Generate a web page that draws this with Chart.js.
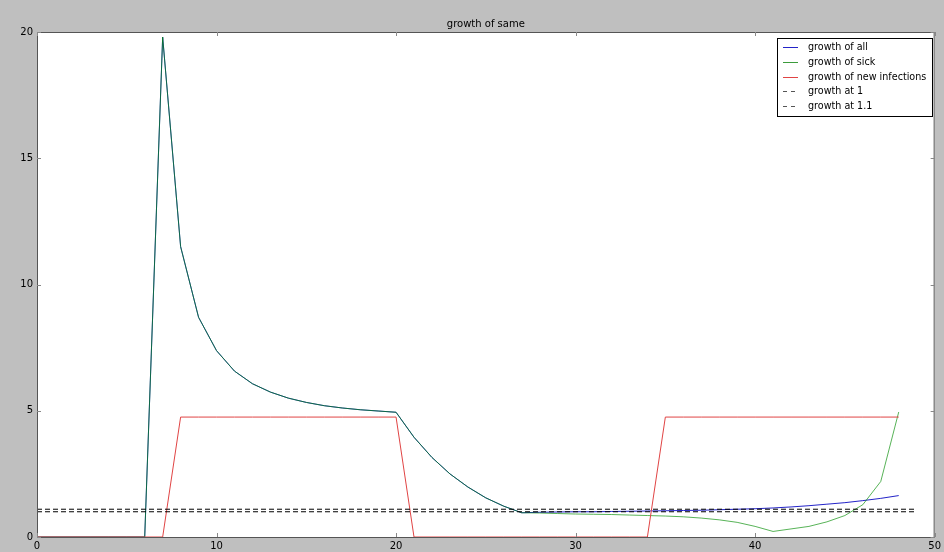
<!DOCTYPE html>
<html>
<head>
<meta charset="utf-8">
<script src="https://cdn.jsdelivr.net/npm/chart.js@4.4.1/dist/chart.umd.min.js"></script>
<style>
  html, body { margin: 0; padding: 0; background: #bfbfbf; }
  #wrap { width: 944px; height: 552px; }
</style>
</head>
<body>
<div id="wrap"><canvas id="c" width="944" height="552"></canvas></div>
<script>
// Day index for every sample
const days = [0,1,2,3,4,5,6,7,8,9,10,11,12,13,14,15,16,17,18,19,20,21,22,23,24,
              25,26,27,28,29,30,31,32,33,34,35,36,37,38,39,40,41,42,43,44,45,46,47,48];

// Growth factor of the whole population
const growthAll = [0,0,0,0,0,0,0,19.8,11.5,8.7,7.38,6.57,6.07,5.74,5.5,5.33,5.2,5.11,5.04,4.99,
                   4.94,3.95,3.15,2.5,1.98,1.55,1.22,0.96,0.98,0.99,1.0,1.0,1.01,1.02,1.03,1.04,
                   1.05,1.06,1.08,1.1,1.12,1.15,1.19,1.24,1.3,1.36,1.44,1.53,1.64];

// Growth factor of the sick
const growthSick = [0,0,0,0,0,0,0,19.8,11.5,8.7,7.38,6.57,6.07,5.74,5.5,5.33,5.2,5.11,5.04,4.99,
                    4.94,3.95,3.15,2.5,1.98,1.55,1.22,0.96,0.95,0.93,0.91,0.9,0.89,0.87,0.85,0.83,
                    0.8,0.75,0.68,0.58,0.42,0.22,0.32,0.42,0.6,0.85,1.28,2.2,4.95];

// Growth factor of new infections
const growthNew = [0,0,0,0,0,0,0,0,4.75,4.75,4.75,4.75,4.75,4.75,4.75,4.75,4.75,4.75,4.75,4.75,
                   4.75,0,0,0,0,0,0,0,0,0,0,0,0,0,0,4.75,4.75,4.75,4.75,4.75,4.75,4.75,4.75,
                   4.75,4.75,4.75,4.75,4.75,4.75];

// Horizontal reference levels and their extent
const refLevels = [1, 1.1];
const refSpan = [0, 49];

const xTicks = [0, 10, 20, 30, 40, 50];
const yTicks = [0, 5, 10, 15, 20];

const pts = (ys) => days.map((d, i) => ({ x: d, y: ys[i] }));
const refPts = (lvl) => refSpan.map(x => ({ x: x, y: lvl }));

const FONT = '"DejaVu Sans", sans-serif';

const lineBase = { borderWidth: 1, pointRadius: 0, tension: 0, fill: false };

const datasets = [
  Object.assign({ label: 'growth of all', data: pts(growthAll), borderColor: '#2323c8', order: 4 }, lineBase),
  Object.assign({ label: 'growth of sick', data: pts(growthSick), borderColor: 'rgba(0,140,0,0.66)', order: 3 }, lineBase),
  Object.assign({ label: 'growth of new infections', data: pts(growthNew), borderColor: '#e04444', order: 2 }, lineBase),
  Object.assign({ label: 'growth at 1', data: refPts(refLevels[0]), borderColor: '#000000', borderDash: [5, 3], order: 1 }, lineBase),
  Object.assign({ label: 'growth at 1.1', data: refPts(refLevels[1]), borderColor: '#000000', borderDash: [5, 3], order: 0 }, lineBase)
];

// Legend sample styles, one per dataset
const legendColors = ['#2323c8', '#3c9c3c', '#e04444', '#555555', '#555555'];

// Frame, inward tick marks on all four sides, title and legend box
const decorations = {
  id: 'decorations',
  beforeDraw(chart) {
    const { ctx, chartArea: a } = chart;
    ctx.save();
    ctx.fillStyle = '#ffffff';
    ctx.fillRect(a.left, a.top, a.right - a.left, a.bottom - a.top);
    ctx.restore();
  },
  afterDraw(chart) {
    const { ctx, chartArea: a, scales } = chart;
    ctx.save();
    ctx.strokeStyle = '#555555';
    ctx.lineWidth = 1;
    ctx.strokeRect(a.left + 0.5, a.top + 0.5, a.right - a.left - 1, a.bottom - a.top);

    ctx.strokeStyle = '#888888';
    const tl = 4;
    ctx.beginPath();
    xTicks.forEach(v => {
      const px = Math.round(scales.x.getPixelForValue(v)) + 0.5;
      ctx.moveTo(px, a.bottom); ctx.lineTo(px, a.bottom - tl);
      ctx.moveTo(px, a.top); ctx.lineTo(px, a.top + tl);
    });
    yTicks.forEach(v => {
      const py = Math.round(scales.y.getPixelForValue(v)) + 0.5;
      ctx.moveTo(a.left, py); ctx.lineTo(a.left + tl, py);
      ctx.moveTo(a.right, py); ctx.lineTo(a.right - tl, py);
    });
    ctx.stroke();

    // title
    ctx.fillStyle = '#000';
    ctx.font = '10px ' + FONT;
    ctx.textAlign = 'center';
    ctx.textBaseline = 'bottom';
    ctx.fillText('growth of same', (a.left + a.right) / 2, a.top - 3);

    // legend
    const bx = 777, by = 38, bw = 155, bh = 78;
    ctx.fillStyle = '#ffffff';
    ctx.fillRect(bx, by, bw, bh);
    ctx.strokeStyle = '#000';
    ctx.lineWidth = 1;
    ctx.strokeRect(bx + 0.5, by + 0.5, bw, bh);
    const ds = chart.data.datasets;
    ctx.font = '9.6px ' + FONT;
    ctx.textAlign = 'left';
    ctx.textBaseline = 'middle';
    ds.forEach((d, i) => {
      const y = Math.round(by + 9 + i * 14.8) + 0.5;
      ctx.beginPath();
      ctx.strokeStyle = legendColors[i];
      ctx.setLineDash(d.borderDash ? [4, 4] : []);
      ctx.moveTo(783, y); ctx.lineTo(798, y);
      ctx.stroke();
      ctx.setLineDash([]);
      ctx.fillStyle = '#000';
      ctx.fillText(d.label, 808, y);
    });
    ctx.restore();
  }
};

new Chart(document.getElementById('c'), {
  type: 'line',
  data: { datasets },
  plugins: [decorations],
  options: {
    responsive: false,
    animation: false,
    layout: { padding: { top: 32, right: 7, left: 0, bottom: 0 } },
    plugins: { legend: { display: false }, title: { display: false }, tooltip: { enabled: false } },
    scales: {
      x: {
        type: 'linear', min: 0, max: 50,
        afterFit: s => { s.height = 15; },
        afterBuildTicks: s => { s.ticks = xTicks.map(v => ({ value: v })); },
        grid: { display: false, drawTicks: false },
        border: { display: false },
        ticks: { color: '#000', font: { family: FONT, size: 10 }, padding: 3, maxRotation: 0 }
      },
      y: {
        type: 'linear', min: 0, max: 20,
        afterFit: s => { s.width = 37; },
        afterBuildTicks: s => { s.ticks = yTicks.map(v => ({ value: v })); },
        grid: { display: false, drawTicks: false },
        border: { display: false },
        ticks: { color: '#000', font: { family: FONT, size: 10 }, padding: 4 }
      }
    }
  }
});
</script>
</body>
</html>
